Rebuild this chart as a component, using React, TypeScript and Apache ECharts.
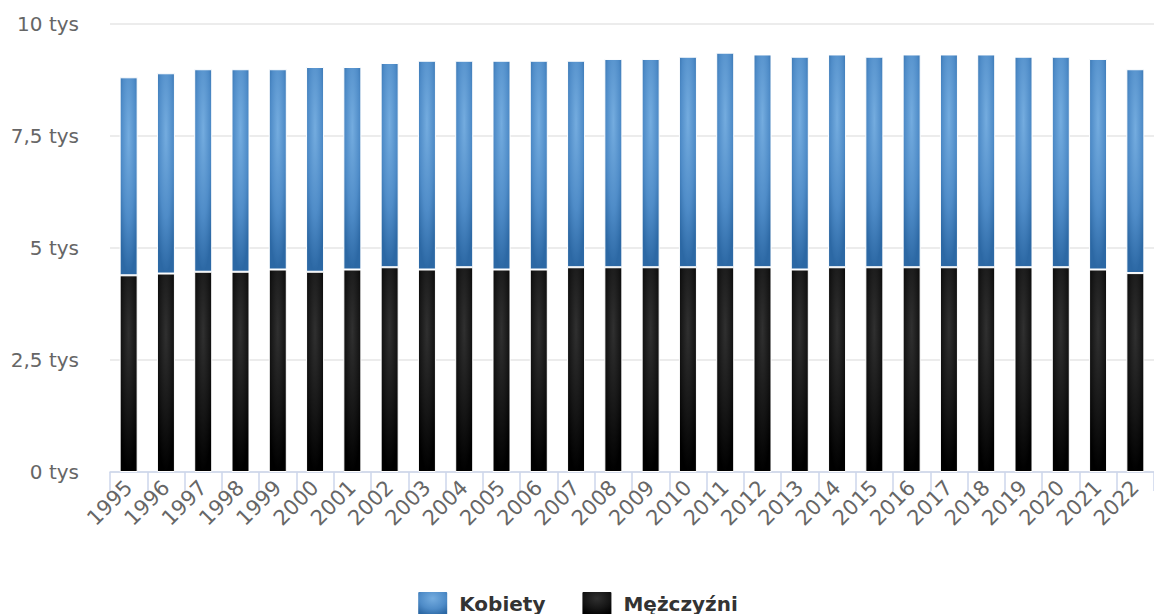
import React, { useEffect, useRef } from "react";
import * as echarts from "echarts";

const years = ["1995","1996","1997","1998","1999","2000","2001","2002","2003","2004","2005","2006","2007","2008","2009","2010","2011","2012","2013","2014","2015","2016","2017","2018","2019","2020","2021","2022"];
const men = [4390,4430,4470,4470,4520,4470,4520,4570,4520,4570,4520,4520,4570,4570,4570,4570,4570,4570,4520,4570,4570,4570,4570,4570,4570,4570,4520,4440];
const women = [4420,4470,4520,4520,4470,4570,4520,4560,4660,4610,4660,4660,4610,4650,4650,4700,4790,4750,4750,4750,4700,4750,4750,4750,4700,4700,4700,4550];
const yTicks = [0, 2500, 5000, 7500, 10000];

const FONT = "DejaVu Sans";

function radial(center: string, mid: string, edge: string) {
  return {
    type: "radial",
    x: 0.5,
    y: 0.3,
    r: 0.7,
    colorStops: [
      { offset: 0, color: center },
      { offset: 0.6, color: mid },
      { offset: 1, color: edge },
    ],
  } as any;
}

export default function App() {
  const ref = useRef<HTMLDivElement>(null);
  useEffect(() => {
    if (!ref.current) return;
    const chart = echarts.init(ref.current, undefined, { renderer: "svg" });
    const womenColor = radial("#74acdf", "#4f8cc8", "#2c68a4");
    const menColor = radial("#303030", "#151515", "#000000");
    chart.setOption({
      animation: false,
      grid: { left: 110, right: -9, top: 24, bottom: 142, containLabel: false },
      legend: {
        data: ["Kobiety", "Mężczyźni"],
        top: 585,
        left: "center",
        itemWidth: 31,
        itemHeight: 25,
        itemGap: 35,
        icon: "path://M2,0 L29,0 Q31,0 31,2 L31,23 Q31,25 29,25 L2,25 Q0,25 0,23 L0,2 Q0,0 2,0 Z",
        textStyle: { fontFamily: FONT, fontWeight: "bold", fontSize: 20, color: "#333", padding: [0, 0, 0, 6] },
      },
      xAxis: {
        type: "category",
        data: years,
        boundaryGap: true,
        axisLine: { lineStyle: { color: "#ccd6eb", width: 1.5 } },
        axisTick: { show: true, length: 19, lineStyle: { color: "#ccd6eb", width: 1.5 } },
        axisLabel: {
          interval: 0,
          rotate: 45,
          margin: 12,
          fontFamily: FONT,
          fontSize: 21,
          color: "#666",
        },
      },
      yAxis: {
        type: "value",
        min: yTicks[0],
        max: yTicks[yTicks.length - 1],
        interval: 2500,
        axisLine: { show: false },
        axisTick: { show: false },
        splitLine: { lineStyle: { color: "#e6e6e6", width: 1.5 } },
        axisLabel: {
          margin: 31,
          fontFamily: FONT,
          fontSize: 20,
          color: "#666",
          formatter: (v: number) => String(v / 1000).replace(".", ",") + " tys",
        },
      },
      series: [
        {
          name: "Mężczyźni",
          type: "bar",
          stack: "total",
          barWidth: 18,
          data: men,
          itemStyle: { color: menColor, borderColor: "#ffffff", borderWidth: 1 },
        },
        {
          name: "Kobiety",
          type: "bar",
          stack: "total",
          barWidth: 18,
          data: women,
          itemStyle: { color: womenColor, borderColor: "#ffffff", borderWidth: 1 },
        },
      ],
    });
    return () => chart.dispose();
  }, []);
  return (
    <div
      ref={ref}
      style={{ position: "fixed", left: 0, top: 0, width: 1154, height: 614, background: "#fff" }}
    />
  );
}
